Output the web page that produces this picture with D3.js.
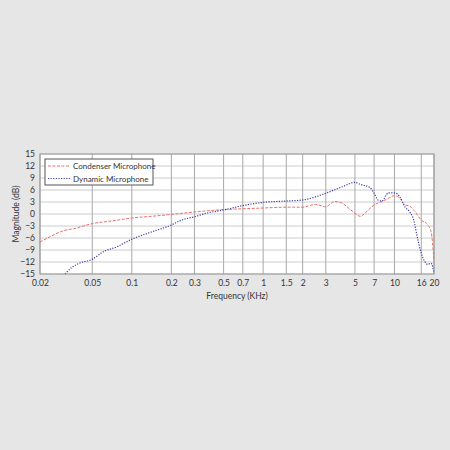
<!DOCTYPE html>
<html>
<head>
<meta charset="utf-8">
<script src="https://cdn.jsdelivr.net/npm/d3@7"></script>
<style>
  html, body { margin: 0; padding: 0; background: #e6e6e6; }
  text { font-family: Lato, "Open Sans", "DejaVu Sans", sans-serif; fill: #333; }
</style>
</head>
<body>
<div id="wrapper"></div>
<script>
// Data (frequency in kHz, magnitude in dB)
const condenserFreq = [0.02, 0.0238, 0.03, 0.037, 0.05, 0.07, 0.1, 0.15, 0.2, 0.3, 0.5, 0.7, 1, 1.5, 2, 2.5, 3, 3.5, 4, 4.5, 5, 5.5, 6, 7, 8, 9, 10, 11, 12, 13, 14, 16, 18, 19, 20];
const condenserDb   = [-7, -5.7, -4.2, -3.6, -2.4, -1.75, -1.0, -0.5, -0.1, 0.5, 1.1, 1.3, 1.5, 1.7, 1.7, 2.4, 1.8, 3.1, 2.7, 1.4, 0.2, -0.6, 0.3, 2.25, 3.1, 3.9, 4.6, 3.9, 2.25, 2.0, 1.0, -1.5, -2.75, -4.4, -11.5];

const dynamicFreq = [0.031, 0.0348, 0.04, 0.05, 0.061, 0.077, 0.1, 0.138, 0.2, 0.24, 0.3, 0.37, 0.5, 0.7, 1, 1.5, 2, 3, 4, 5, 5.5, 6.5, 7, 7.5, 8, 9, 10, 11, 12, 13, 14, 15, 16, 17, 18, 19, 20];
const dynamicDb   = [-15, -13.4, -12.3, -11.3, -9.4, -8.2, -6.3, -4.6, -2.75, -1.5, -0.7, 0.2, 1.0, 2.1, 2.9, 3.25, 3.5, 5.2, 6.8, 7.9, 7.4, 6.6, 5.2, 3.5, 3.25, 5.3, 5.3, 4.3, 1.8, 0.6, -1.5, -6.1, -9.8, -11.9, -12.6, -12.3, -14.8];

const xTicks = [0.02, 0.05, 0.1, 0.2, 0.3, 0.5, 0.7, 1, 1.5, 2, 3, 5, 7, 10, 16, 20];
const yTicks = [15, 12, 9, 6, 3, 0, -3, -6, -9, -12, -15];

const seriesNames = ["Condenser Microphone", "Dynamic Microphone"];

// Dimensions
const dimensions = {
  width: 450,
  height: 450,
  margins: { top: 154, right: 16, bottom: 176, left: 40 }
};
dimensions.boundedWidth = dimensions.width - dimensions.margins.left - dimensions.margins.right;
dimensions.boundedHeight = dimensions.height - dimensions.margins.top - dimensions.margins.bottom;

const wrapper = d3.select("#wrapper")
  .append("svg")
    .attr("width", dimensions.width)
    .attr("height", dimensions.height);

wrapper.append("rect")
  .attr("width", dimensions.width)
  .attr("height", dimensions.height)
  .attr("fill", "#e6e6e6");

const bounds = wrapper.append("g")
  .attr("transform", `translate(${dimensions.margins.left},${dimensions.margins.top})`);

// Scales
const xScale = d3.scaleLog()
  .domain([0.02, 20])
  .range([0, dimensions.boundedWidth]);

const yScale = d3.scaleLinear()
  .domain([-15, 15])
  .range([dimensions.boundedHeight, 0]);

// Plot background
bounds.append("rect")
  .attr("width", dimensions.boundedWidth)
  .attr("height", dimensions.boundedHeight)
  .attr("fill", "#ffffff");

// Grid
bounds.append("g")
  .selectAll("line")
  .data(yTicks)
  .join("line")
    .attr("x1", 0)
    .attr("x2", dimensions.boundedWidth)
    .attr("y1", d => yScale(d))
    .attr("y2", d => yScale(d))
    .attr("stroke", "#cccccc")
    .attr("stroke-width", 1);

bounds.append("g")
  .selectAll("line")
  .data(xTicks)
  .join("line")
    .attr("x1", d => xScale(d))
    .attr("x2", d => xScale(d))
    .attr("y1", 0)
    .attr("y2", dimensions.boundedHeight)
    .attr("stroke", "#a8a8a8")
    .attr("stroke-width", 1);

// Lines
const lineGen = d3.line()
  .x(d => xScale(d[0]))
  .y(d => yScale(d[1]))
  .curve(d3.curveMonotoneX);

const condenser = condenserFreq.map((f, i) => [f, condenserDb[i]]);
const dynamic = dynamicFreq.map((f, i) => [f, dynamicDb[i]]);

bounds.append("path")
  .datum(condenser)
  .attr("d", lineGen)
  .attr("fill", "none")
  .attr("stroke", "#ec6f6a")
  .attr("stroke-width", 1)
  .attr("stroke-dasharray", "3,1.5");

bounds.append("path")
  .datum(dynamic)
  .attr("d", lineGen)
  .attr("fill", "none")
  .attr("stroke", "#4040a0")
  .attr("stroke-width", 1.2)
  .attr("stroke-dasharray", "1.2,1.4");

// Frame
bounds.append("rect")
  .attr("width", dimensions.boundedWidth)
  .attr("height", dimensions.boundedHeight)
  .attr("fill", "none")
  .attr("stroke", "#999999")
  .attr("stroke-width", 1);

// Axes
const xAxisGenerator = d3.axisBottom(xScale)
  .tickValues(xTicks)
  .tickFormat(d => d)
  .tickSize(0)
  .tickPadding(6);

const xAxis = bounds.append("g")
  .attr("transform", `translate(0,${dimensions.boundedHeight})`)
  .call(xAxisGenerator);
xAxis.select(".domain").remove();
xAxis.selectAll("text")
  .style("font-size", "8.5px")
  .attr("fill", "#333");

const yAxisGenerator = d3.axisLeft(yScale)
  .tickValues(yTicks)
  .tickSize(0)
  .tickPadding(5);

const yAxis = bounds.append("g").call(yAxisGenerator);
yAxis.select(".domain").remove();
yAxis.selectAll("text")
  .style("font-size", "8.5px")
  .attr("fill", "#333");

bounds.append("text")
  .attr("x", dimensions.boundedWidth / 2)
  .attr("y", dimensions.boundedHeight + 25)
  .attr("text-anchor", "middle")
  .style("font-size", "8.5px")
  .text("Frequency (KHz)");

bounds.append("text")
  .attr("transform", `translate(${-21},${dimensions.boundedHeight / 2}) rotate(-90)`)
  .attr("text-anchor", "middle")
  .style("font-size", "8.5px")
  .text("Magnitude (dB)");

// Legend
const legend = bounds.append("g")
  .attr("transform", "translate(5,5)");

legend.append("rect")
  .attr("width", 108)
  .attr("height", 26)
  .attr("fill", "#ffffff")
  .attr("stroke", "#555555")
  .attr("stroke-width", 1);

const legendStyles = [
  { color: "#ec6f6a", dash: "3,1.5", w: 1 },
  { color: "#4040a0", dash: "1.2,1.4", w: 1.2 }
];

seriesNames.forEach((name, i) => {
  const y = 7 + i * 12.5;
  legend.append("line")
    .attr("x1", 3)
    .attr("x2", 25)
    .attr("y1", y)
    .attr("y2", y)
    .attr("stroke", legendStyles[i].color)
    .attr("stroke-width", legendStyles[i].w)
    .attr("stroke-dasharray", legendStyles[i].dash);
  legend.append("text")
    .attr("x", 28)
    .attr("y", y + 3)
    .style("font-size", "8px")
    .text(name);
});
</script>
</body>
</html>
